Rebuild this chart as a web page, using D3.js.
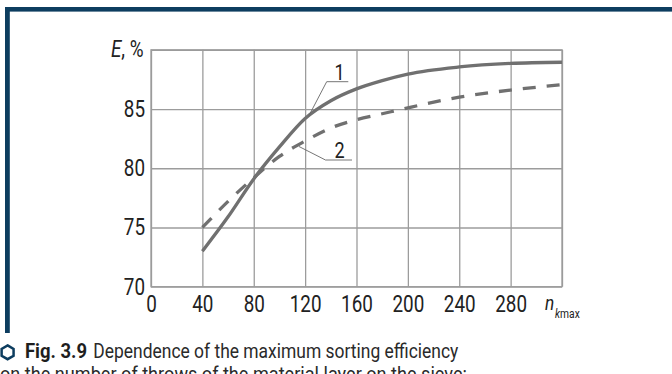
<!DOCTYPE html>
<html>
<head>
<meta charset="utf-8">
<script src="https://cdn.jsdelivr.net/npm/d3@7"></script>
<style>
  html, body { margin: 0; padding: 0; background: #fff; }
  svg { display: block; }
  text { font-family: Roboto, "Noto Sans", sans-serif; }
</style>
</head>
<body>
<svg id="chart" width="672" height="374"></svg>
<script>
// Number of throws of the material layer (x) and efficiency E, % for both curves
const throws = [40, 60, 80, 100, 120, 140, 160, 180, 200, 240, 280, 320];
const efficiency1 = [73.0, 75.9, 79.1, 81.8, 84.2, 85.7, 86.7, 87.4, 87.95, 88.55, 88.85, 88.95];
const efficiency2 = [75.0, 77.2, 79.2, 81.0, 82.3, 83.4, 84.1, 84.6, 85.1, 86.0, 86.6, 87.05];
const xTicks = [0, 40, 80, 120, 160, 200, 240, 280, 320];
const xTickLabels = ["0", "40", "80", "120", "160", "200", "240", "280", ""];
const yTicks = [70, 75, 80, 85, 90];
const yTickLabels = ["70", "75", "80", "85", ""];
const curveLabels = ["1", "2"];
const captionBold = "Fig. 3.9";
const captionLine1 = "Dependence of the maximum sorting efficiency";
const captionLine2 = "on the number of throws of the material layer on the sieve:";

const svg = d3.select("#chart");
const frameColor = "#0d3d5f";
const gridColor = "#9c9c9c";
const curveColor = "#707070";
const textColor = "#222";
const squeeze = 0.82;

// page frame: bar along the top and down the left side
svg.append("rect").attr("x", 5).attr("y", 7).attr("width", 667).attr("height", 4.6).attr("fill", frameColor);
svg.append("rect").attr("x", 5).attr("y", 7).attr("width", 4.8).attr("height", 326).attr("fill", frameColor);

const x = d3.scaleLinear().domain([0, 320]).range([151, 562]);
const y = d3.scaleLinear().domain([70, 90]).range([286.7, 49.8]);

// grid + axes
const xAxis = d3.axisBottom(x)
  .tickValues(xTicks)
  .tickSizeInner(-(y(70) - y(90)))
  .tickSizeOuter(0)
  .tickPadding(9.3)
  .tickFormat((d, i) => xTickLabels[i]);

const yAxis = d3.axisLeft(y)
  .tickValues(yTicks)
  .tickSizeInner(-(x(320) - x(0)))
  .tickSizeOuter(0)
  .tickPadding(7.3)
  .tickFormat((d, i) => yTickLabels[i]);

function styleAxis(g) {
  g.select(".domain").remove();
  g.selectAll(".tick line").attr("stroke", gridColor).attr("stroke-width", 1.3);
  g.selectAll(".tick text")
    .attr("fill", textColor)
    .attr("font-size", 23)
    .attr("transform", `scale(${squeeze},1)`);
}

svg.append("g").attr("transform", `translate(0,${y(70)})`).call(xAxis).call(styleAxis);
svg.append("g").attr("transform", `translate(${x(0)},0)`).call(yAxis).call(styleAxis);

// plot frame
svg.append("rect")
  .attr("x", x(0)).attr("y", y(90))
  .attr("width", x(320) - x(0)).attr("height", y(70) - y(90))
  .attr("fill", "none").attr("stroke", gridColor).attr("stroke-width", 1.3);

// curves
const line = d3.line().x(d => x(d[0])).y(d => y(d[1])).curve(d3.curveMonotoneX);
const pts1 = throws.map((t, i) => [t, efficiency1[i]]);
const pts2 = throws.map((t, i) => [t, efficiency2[i]]);

svg.append("path").attr("d", line(pts2))
  .attr("fill", "none").attr("stroke", curveColor).attr("stroke-width", 3.3)
  .attr("stroke-dasharray", "13 11");
svg.append("path").attr("d", line(pts1))
  .attr("fill", "none").attr("stroke", curveColor).attr("stroke-width", 3.3);

// curve callouts with leader lines
function callout(label, tx, ty, ux1, ux2, uy, lx, ly) {
  const g = svg.append("g");
  g.append("polyline")
    .attr("points", `${lx},${ly} ${ux1},${uy} ${ux2},${uy}`)
    .attr("fill", "none").attr("stroke", "#666").attr("stroke-width", 0.9);
  g.append("text")
    .attr("transform", `translate(${tx},${ty}) scale(${squeeze},1)`)
    .attr("text-anchor", "middle")
    .attr("font-size", 22).attr("fill", textColor)
    .text(label);
}
callout(curveLabels[0], 339.5, 79.5, 326.7, 348.3, 81.7, 308.5, 116.5);
callout(curveLabels[1], 339.5, 158, 325.5, 352, 160, 299, 146.5);

// axis titles
const yTitle = svg.append("text")
  .attr("transform", `translate(143.5,56.5) scale(${squeeze},1)`)
  .attr("text-anchor", "end").attr("font-size", 23).attr("fill", textColor);
yTitle.append("tspan").attr("font-style", "italic").text("E");
yTitle.append("tspan").text(", %");

const xTitle = svg.append("text")
  .attr("transform", `translate(545,310) scale(${squeeze},1)`)
  .attr("font-size", 21).attr("fill", textColor);
xTitle.append("tspan").attr("font-style", "italic").text("n");
xTitle.append("tspan").attr("font-size", 12.5).attr("dy", 8).attr("dx", 1).attr("font-style", "italic").text("k");
xTitle.append("tspan").attr("font-size", 12.5).text("max");

// caption
const hex = d3.range(6).map(k => {
  const a = Math.PI / 3 * k - Math.PI / 2;
  return [7.6 + 6.9 * Math.cos(a), 352.3 + 6.9 * Math.sin(a)];
});
svg.append("polygon").attr("points", hex.map(p => p.join(",")).join(" "))
  .attr("fill", "none").attr("stroke", frameColor).attr("stroke-width", 2.5);

svg.append("text").attr("x", 25).attr("y", 358.3)
  .attr("font-size", 20.5).attr("font-weight", "bold").attr("fill", "#1e1e1e")
  .attr("textLength", 62).attr("lengthAdjust", "spacingAndGlyphs")
  .text(captionBold);
svg.append("text").attr("x", 93.3).attr("y", 358.3)
  .attr("font-size", 20.5).attr("fill", "#2a2a2a")
  .attr("textLength", 365).attr("lengthAdjust", "spacingAndGlyphs")
  .text(captionLine1);
svg.append("text").attr("x", 0).attr("y", 381)
  .attr("font-size", 20.5).attr("fill", "#2a2a2a")
  .attr("textLength", 467).attr("lengthAdjust", "spacingAndGlyphs")
  .text(captionLine2);
</script>
</body>
</html>
